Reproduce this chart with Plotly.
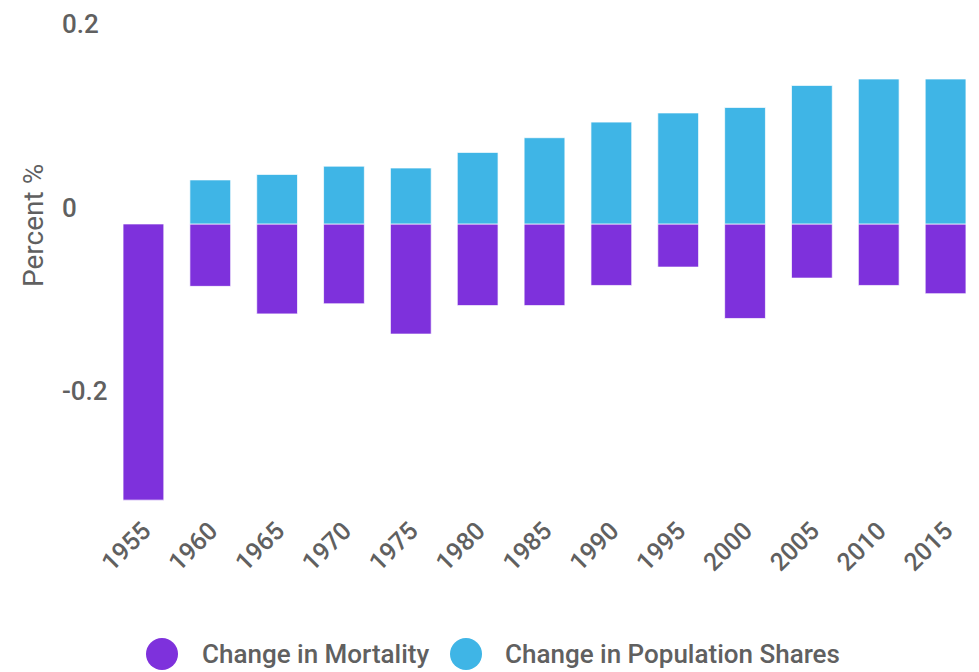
import plotly.graph_objects as go

years = ["1955", "1960", "1965", "1970", "1975", "1980", "1985",
         "1990", "1995", "2000", "2005", "2010", "2015"]
mortality = [-0.301, -0.068, -0.098, -0.087, -0.120, -0.089, -0.089,
             -0.067, -0.047, -0.103, -0.059, -0.067, -0.076]
population_shares = [None, 0.048, 0.054, 0.063, 0.061, 0.078, 0.094,
                     0.111, 0.121, 0.127, 0.151, 0.158, 0.158]
y_tick_values = [0.2, 0, -0.2]
y_tick_labels = ["0.2", "0", "-0.2"]
series_names = ["Change in Mortality", "Change in Population Shares"]
series_colors = ["#7e31dc", "#3fb5e6"]

FONT = "Roboto, 'Open Sans', sans-serif"
TXT = "#606060"

fig = go.Figure()
for name, vals, col in zip(series_names, [mortality, population_shares], series_colors):
    fig.add_trace(go.Bar(
        x=years, y=vals, name=name,
        marker=dict(color=col, line=dict(color="rgba(255,255,255,0.7)", width=1)),
        showlegend=False,
    ))

W, H = 979, 672
ML, MR, MT, MB = 110, 0, 20, 167
pw = W - ML - MR
ph = H - MT - MB

def px_x(p):
    return (p - ML) / pw

def px_y(p):
    return (H - MB - p) / ph

annotations = []
for v, t in zip(y_tick_values, y_tick_labels):
    annotations.append(dict(
        x=px_x(60), xref="paper", y=v, yref="y", yshift=16,
        text=t, showarrow=False, xanchor="left", yanchor="middle",
        font=dict(family=FONT, size=26, color=TXT, weight=500),
    ))
annotations.append(dict(
    x=px_x(33), xref="paper", y=px_y(226), yref="paper",
    text="Percent %", textangle=-90, showarrow=False,
    xanchor="center", yanchor="middle",
    font=dict(family=FONT, size=28, color=TXT),
))

shapes = []
legend_items = [(162, 200), (466, 503)]
for (cx, tx), name, col in zip(legend_items, series_names, series_colors):
    shapes.append(dict(
        type="circle", xref="paper", yref="paper",
        xsizemode="pixel", ysizemode="pixel",
        xanchor=px_x(cx), yanchor=px_y(654),
        x0=-16, x1=16, y0=-16, y1=16,
        fillcolor=col, line=dict(width=0),
    ))
    annotations.append(dict(
        x=px_x(tx), xref="paper", y=px_y(654), yref="paper",
        text=name, showarrow=False, xanchor="left", yanchor="middle",
        font=dict(family=FONT, size=26, color=TXT, weight=500),
    ))

fig.update_layout(
    width=W, height=H,
    margin=dict(l=ML, r=MR, t=MT, b=MB, pad=0),
    barmode="relative", bargap=0.39,
    plot_bgcolor="white", paper_bgcolor="white",
    font=dict(family=FONT, size=26, color=TXT),
    xaxis=dict(
        type="category", range=[-0.5, 12.5], tickangle=-45,
        showgrid=False, zeroline=False, showline=False, ticks="",
        ticklabelstandoff=5,
        tickfont=dict(family=FONT, size=25, color=TXT, weight=500),
    ),
    yaxis=dict(
        range=[-0.3063, 0.2223], showgrid=False, zeroline=False,
        showline=False, ticks="", showticklabels=False,
        tickvals=y_tick_values,
    ),
    annotations=annotations,
    shapes=shapes,
)

fig.write_html(
    "out.html",
    config={"displayModeBar": False},
    post_script="document.body.style.margin='0';document.body.style.overflow='hidden';",
)
